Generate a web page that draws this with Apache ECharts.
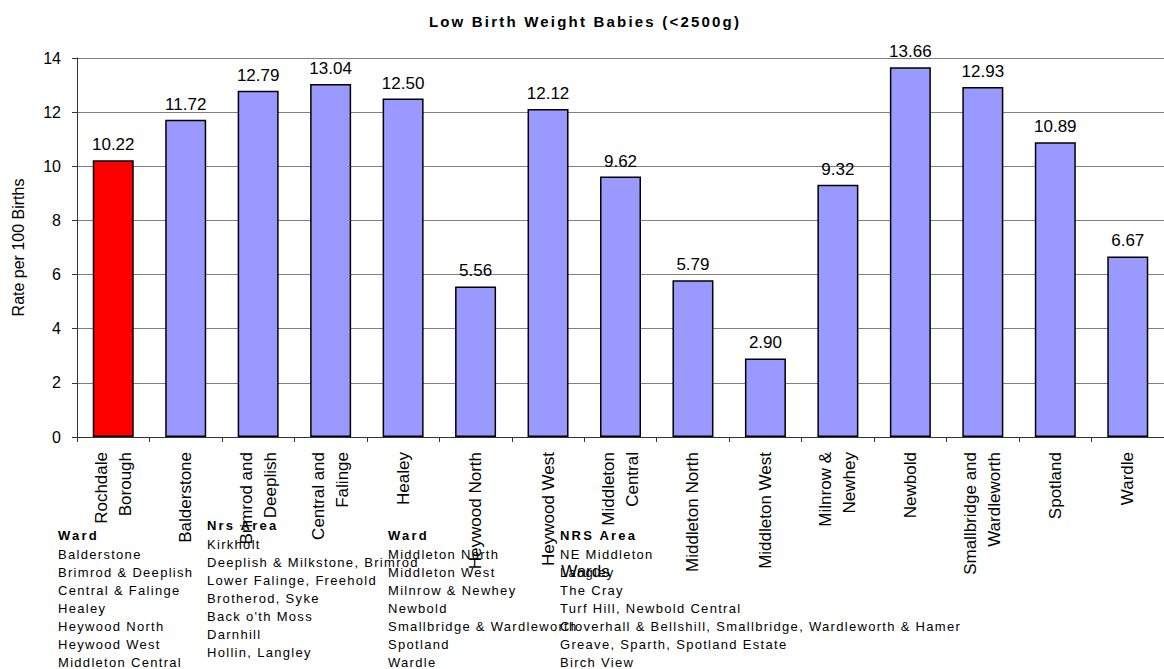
<!DOCTYPE html>
<html>
<head>
<meta charset="utf-8">
<script src="https://cdn.jsdelivr.net/npm/echarts@6/dist/echarts.min.js"></script>
<style>
  html, body { margin: 0; padding: 0; background: #fff; }
  #main { width: 1164px; height: 669px; }
  /* the original Excel export draws the title and the key with wide letter spacing */
  #main text[style*="Liberation"] { letter-spacing: 1.3px; }
  #main text[style*="bold"][style*="Liberation"] { letter-spacing: 2.2px; }
</style>
</head>
<body>
<div id="main"></div>
<script>
var wards = ['Rochdale\nBorough', 'Balderstone', 'Brimrod and\nDeeplish', 'Central and\nFalinge', 'Healey',
  'Heywood North', 'Heywood West', 'Middleton\nCentral', 'Middleton North', 'Middleton West',
  'Milnrow &\nNewhey', 'Newbold', 'Smallbridge and\nWardleworth', 'Spotland', 'Wardle']
var rates = [10.22, 11.72, 12.79, 13.04, 12.50, 5.56, 12.12, 9.62, 5.79, 2.90, 9.32, 13.66, 12.93, 10.89, 6.67]
var yTicks = [0, 2, 4, 6, 8, 10, 12, 14]

// key printed under the chart
var keyWards1 = ['Balderstone', 'Brimrod & Deeplish', 'Central & Falinge', 'Healey', 'Heywood North', 'Heywood West', 'Middleton Central']
var keyAreas1 = ['Kirkholt', 'Deeplish & Milkstone, Brimrod', 'Lower Falinge, Freehold', 'Brotherod, Syke', "Back o'th Moss", 'Darnhill', 'Hollin, Langley']
var keyWards2 = ['Middleton North', 'Middleton West', 'Milnrow & Newhey', 'Newbold', 'Smallbridge & Wardleworth', 'Spotland', 'Wardle']
var keyAreas2 = ['NE Middleton', 'Langley', 'The Cray', 'Turf Hill, Newbold Central', 'Cloverhall & Bellshill, Smallbridge, Wardleworth & Hamer', 'Greave, Sparth, Spotland Estate', 'Birch View']

var keyFont = '13px "Liberation Sans"'
var keyBold = 'bold 13px "Liberation Sans"'
var rowH = 17.9

function keyColumn (x, headY, head, rows) {
  return [
    { type: 'text', left: x, top: headY - 8, style: { text: head, font: keyBold, fill: '#000' } },
    { type: 'text', left: x, top: headY + rowH - 9, style: { text: rows.join('\n'), font: keyFont, lineHeight: rowH, fill: '#000' } }
  ]
}

var chart = echarts.init(document.getElementById('main'), null, { renderer: 'svg' })
chart.setOption({
  animation: false,
  backgroundColor: '#fff',
  textStyle: { fontFamily: 'Arial' },
  title: {
    text: 'Low Birth Weight Babies (<2500g)',
    left: 580, top: 9, textAlign: 'center',
    textStyle: { fontFamily: 'Liberation Sans', fontWeight: 'bold', fontSize: 15, color: '#000' }
  },
  grid: { left: 77, top: 58, width: 1095, height: 379, containLabel: false },
  xAxis: {
    type: 'category',
    data: wards,
    name: 'Wards',
    nameLocation: 'middle',
    nameGap: 126,
    nameMoveOverlap: false,
    nameTextStyle: { fontSize: 17, color: '#000', padding: [0, 70, 0, 0] },
    axisLine: { lineStyle: { color: '#333', width: 1 } },
    axisTick: { show: true, length: 5, lineStyle: { color: '#333' } },
    axisLabel: { rotate: 90, fontSize: 17, lineHeight: 24, color: '#000', margin: 15, interval: 0 }
  },
  yAxis: {
    type: 'value',
    min: yTicks[0], max: yTicks[yTicks.length - 1], interval: 2,
    name: 'Rate per 100 Births',
    nameLocation: 'middle',
    nameGap: 51,
    nameMoveOverlap: false,
    nameTextStyle: { fontSize: 16, color: '#000' },
    axisLine: { show: true, lineStyle: { color: '#333', width: 1 } },
    axisTick: { show: true, length: 5, lineStyle: { color: '#333' } },
    axisLabel: { fontSize: 16, color: '#000', margin: 16 },
    splitLine: { lineStyle: { color: '#808080', width: 1 } }
  },
  series: [{
    type: 'bar',
    barWidth: 41,
    data: rates.map(function (v, i) {
      return { value: v, itemStyle: { color: i === 0 ? '#ff0000' : '#9999ff' } }
    }),
    itemStyle: { borderColor: '#000', borderWidth: 1.5 },
    label: {
      show: true, position: 'top', distance: 7, fontSize: 17, color: '#000',
      formatter: function (p) { return p.value.toFixed(2) }
    }
  }],
  graphic: [].concat(
    keyColumn(58, 537, 'Ward', keyWards1),
    keyColumn(207, 527, 'Nrs Area', keyAreas1),
    keyColumn(388, 537, 'Ward', keyWards2),
    keyColumn(560, 537, 'NRS Area', keyAreas2)
  )
})
</script>
</body>
</html>
